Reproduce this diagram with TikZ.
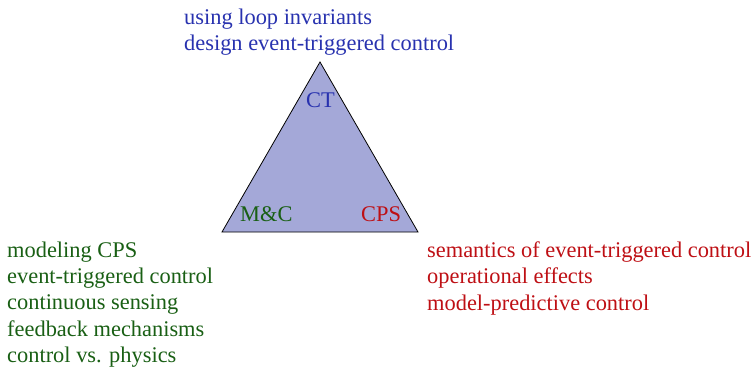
\documentclass[tikz,border=0pt]{standalone}
\usepackage{fontspec}
\setmainfont{Liberation Serif}
\definecolor{ctblue}{RGB}{40,50,175}
\definecolor{mcgreen}{RGB}{25,95,20}
\definecolor{cpsred}{RGB}{190,15,20}
\definecolor{trifill}{RGB}{164,168,216}
\tikzset{
  txt/.style={font=\fontsize{22.4}{26.2}\selectfont, align=left, inner sep=0pt, anchor=north west},
  lbl/.style={font=\fontsize{22.4}{26}\selectfont, inner sep=0pt, anchor=base west},
}
\begin{document}
\begin{tikzpicture}[x=1pt,y=-1pt]
\useasboundingbox (0,0) rectangle (755,370);
\coordinate (top) at (320,62);
\coordinate (bl) at (222,232);
\coordinate (br) at (418,232);
\filldraw[fill=trifill, draw=black, line width=0.8pt, line join=miter] (top) -- (bl) -- (br) -- cycle;
\node[lbl, text=ctblue] (ct) at (306,107) {CT};
\node[lbl, text=mcgreen] (mc) at (240,221) {M\&C};
\node[lbl, text=cpsred] (cps) at (361,221) {CPS};
\node[txt, text=ctblue] (ctlist) at (184,8.7) {using loop invariants\\design event-triggered control};
\node[txt, text=mcgreen] (mclist) at (7,241.7) {modeling CPS\\event-triggered control\\continuous sensing\\feedback mechanisms\\control vs. physics};
\node[txt, text=cpsred] (cpslist) at (427,241.7) {semantics of event-triggered control\\operational effects\\model-predictive control};
\end{tikzpicture}
\end{document}
